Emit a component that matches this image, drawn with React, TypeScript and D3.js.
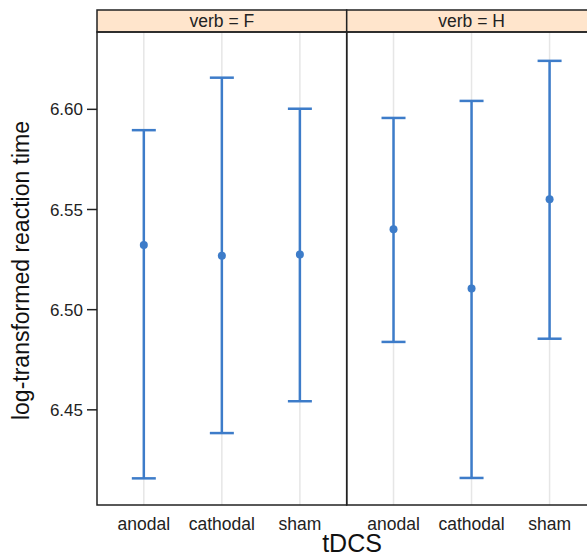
import React from 'react';
import * as d3 from 'd3';

// panels (verb levels) and x categories
const panels = ['F', 'H'];
const categories = ['anodal', 'cathodal', 'sham'];

// estimates, one array per panel
const fitF = [6.5323, 6.5269, 6.5276];
const lowerF = [6.4158, 6.4384, 6.4543];
const upperF = [6.5896, 6.6158, 6.6003];

const fitH = [6.5401, 6.5106, 6.5551];
const lowerH = [6.4839, 6.416, 6.4855];
const upperH = [6.5957, 6.6042, 6.6242];

const yTicks = [6.45, 6.5, 6.55, 6.6];

const W = 587;
const H = 558;
const left = 97;
const panelW = 249.7;
const stripTop = 10;
const plotTop = 32;
const plotBottom = 505;
const blue = '#3D7CC9';

const App = () => {
  const y = d3.scaleLinear().domain([6.4025, 6.6386]).range([plotBottom, plotTop]);
  const fmt = d3.format('.2f');

  const panelData = [
    { name: panels[0], fit: fitF, lower: lowerF, upper: upperF },
    { name: panels[1], fit: fitH, lower: lowerH, upper: upperH },
  ];

  return (
    <svg width={W} height={H} style={{ position: 'absolute', left: 0, top: 0, background: '#fff' }}
      fontFamily="'Liberation Sans', Arial, sans-serif">
      {panelData.map((p, pi) => {
        const x0 = left + pi * panelW;
        const x = d3.scaleLinear().domain([0.4, 3.6]).range([x0, x0 + panelW]);
        return (
          <g key={p.name}>
            {/* vertical reference lines */}
            {categories.map((c, i) => (
              <line key={c} x1={x(i + 1)} x2={x(i + 1)} y1={plotTop} y2={plotBottom}
                stroke="#e6e6e6" strokeWidth={1.5} />
            ))}
            {/* error bars */}
            {categories.map((c, i) => (
              <g key={'eb' + c} stroke={blue} strokeWidth={2.5}>
                <line x1={x(i + 1)} x2={x(i + 1)} y1={y(p.lower[i])} y2={y(p.upper[i])} />
                <line x1={x(i + 1) - 12} x2={x(i + 1) + 12} y1={y(p.upper[i])} y2={y(p.upper[i])} />
                <line x1={x(i + 1) - 12} x2={x(i + 1) + 12} y1={y(p.lower[i])} y2={y(p.lower[i])} />
              </g>
            ))}
            {categories.map((c, i) => (
              <circle key={'pt' + c} cx={x(i + 1)} cy={y(p.fit[i])} r={4} fill={blue} />
            ))}
            {/* strip */}
            <rect x={x0} y={stripTop} width={panelW} height={plotTop - stripTop}
              fill="#FFE5CC" stroke="#222" strokeWidth={1.5} />
            <text x={x0 + panelW / 2} y={plotTop - 5} textAnchor="middle" fontSize={17.5} fill="#222">
              {'verb = ' + p.name}
            </text>
            {/* panel border */}
            <rect x={x0} y={plotTop} width={panelW} height={plotBottom - plotTop}
              fill="none" stroke="#222" strokeWidth={1.5} />
            {/* category labels */}
            {categories.map((c, i) => (
              <text key={'lab' + c} x={x(i + 1)} y={530} textAnchor="middle" fontSize={17.5} fill="#222">
                {c}
              </text>
            ))}
          </g>
        );
      })}
      {/* y axis */}
      {yTicks.map((t) => (
        <g key={t}>
          <line x1={left - 10} x2={left} y1={y(t)} y2={y(t)} stroke="#222" strokeWidth={1.5} />
          <text x={left - 14} y={y(t) + 6} textAnchor="end" fontSize={17} fill="#222">
            {fmt(t)}
          </text>
        </g>
      ))}
      <text transform={`translate(29,${(plotTop + plotBottom) / 2 + 2}) rotate(-90)`} textAnchor="middle"
        fontSize={23} fill="#111">
        log-transformed reaction time
      </text>
      <text x={352} y={552} textAnchor="middle" fontSize={25} fill="#111">
        tDCS
      </text>
    </svg>
  );
};

export default App;
